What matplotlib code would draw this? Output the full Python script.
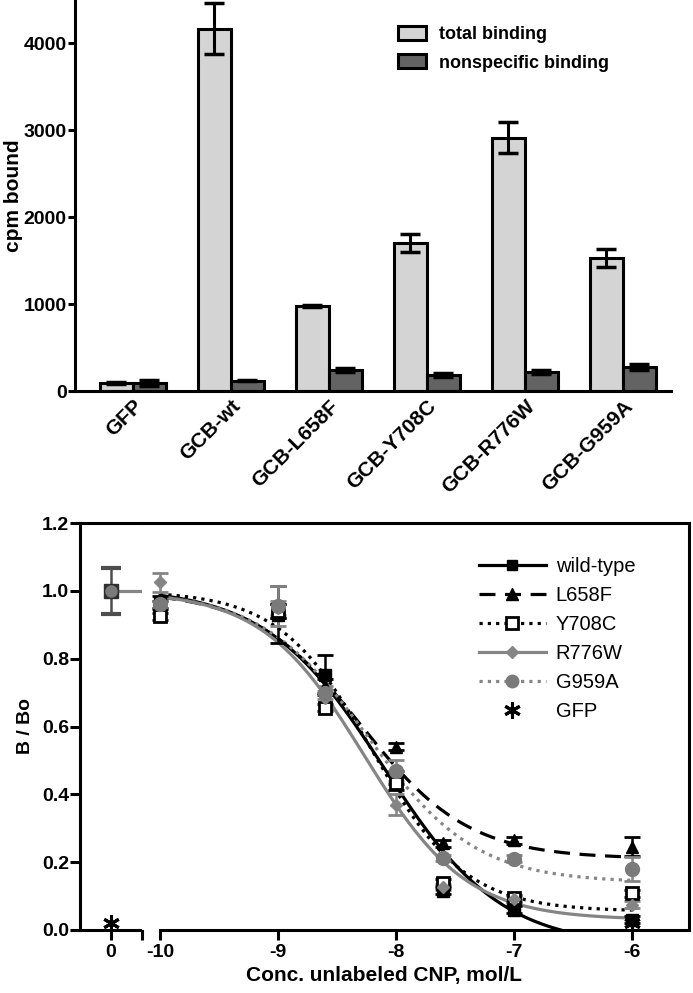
import numpy as np
import matplotlib
matplotlib.use("Agg")
from matplotlib import pyplot as plt
from matplotlib import transforms

plt.rcParams["font.family"] = ["Liberation Sans", "DejaVu Sans"]

# ---- top panel: binding assay ----
constructs = ["GFP", "GCB-wt", "GCB-L658F", "GCB-Y708C", "GCB-R776W", "GCB-G959A"]
total_binding = [90, 4170, 980, 1705, 2915, 1535]
total_err = [10, 290, 8, 105, 180, 105]
nonspec_binding = [90, 120, 240, 184, 220, 280]
nonspec_err = [35, 8, 25, 18, 25, 35]

# ---- bottom panel: competition curves ----
log_conc = [-10, -9, -8.6, -8, -7.6, -7, -6]
series_names = ["wild-type", "L658F", "Y708C", "R776W", "G959A"]
wt_vals = [0.965, 0.93, 0.752, 0.45, 0.115, 0.06, 0.03]
wt_err = [0.02, 0.085, 0.06, 0.02, 0.01, 0.01, 0.01]
l658f_vals = [0.96, 0.94, 0.72, 0.54, 0.256, 0.265, 0.245]
l658f_err = [0.01, 0.02, 0.02, 0.01, 0.01, 0.01, 0.028]
y708c_vals = [0.925, 0.94, 0.655, 0.433, 0.14, 0.094, 0.108]
y708c_err = [0.01, 0.02, 0.01, 0.02, 0.01, 0.01, 0.01]
r776w_vals = [1.025, 0.95, 0.685, 0.37, 0.127, 0.09, 0.075]
r776w_err = [0.028, 0.02, 0.02, 0.03, 0.01, 0.01, 0.01]
g959a_vals = [0.96, 0.955, 0.70, 0.47, 0.212, 0.21, 0.18]
g959a_err = [0.01, 0.06, 0.02, 0.03, 0.01, 0.01, 0.035]
zero_val = 1.0
zero_err = 0.067
gfp_conc = [-6]
gfp_vals = [0.02]
gfp_zero_val = 0.02

# sigmoid fit parameters (top, bottom, logIC50, hill)
fit_top = [1.01, 1.0, 1.0, 1.0, 1.0]
fit_bottom = [-0.05, 0.21, 0.055, 0.03, 0.14]
fit_logic50 = [-8.105, -8.3, -8.2, -8.27, -8.24]
fit_hill = [0.87, 0.95, 1.1, 1.0, 0.95]

fig = plt.figure(figsize=(6.93, 9.93), dpi=100)
W, H = 693., 993.

ax = fig.add_axes([75 / W, 1 - 391 / H, (671 - 75) / W, 391 / H])
pos = np.arange(len(constructs))
bw = 0.337
ax.bar(pos - bw / 2, total_binding, bw, color="#d4d4d4", edgecolor="black", lw=2.2,
	label="total binding", zorder=2)
ax.bar(pos + bw / 2, nonspec_binding, bw, color="#636363", edgecolor="black", lw=2.2,
	label="nonspecific binding", zorder=2)
ax.errorbar(pos - bw / 2, total_binding, yerr=total_err, fmt="none", ecolor="black",
	elinewidth=2.2, capsize=7, capthick=2.5, zorder=3)
ax.errorbar(pos + bw / 2, nonspec_binding, yerr=nonspec_err, fmt="none", ecolor="black",
	elinewidth=2.2, capsize=7, capthick=2.5, zorder=3)
ax.set_xlim(-0.59, 5.49)
ax.set_ylim(0, 4500)
ax.set_yticks([0, 1000, 2000, 3000, 4000])
ax.set_xticks(pos)
ax.set_xticklabels(constructs, rotation=45, ha="right", va="top", rotation_mode="anchor",
	fontsize=15, fontweight="bold")
shift = transforms.ScaledTranslation(5 / 100, 0, fig.dpi_scale_trans)
for lbl in ax.get_xticklabels():
	lbl.set_transform(lbl.get_transform() + shift)
for lbl in ax.get_yticklabels():
	lbl.set_fontsize(14)
	lbl.set_fontweight("bold")
ax.tick_params(axis="x", length=0, pad=4)
ax.tick_params(axis="y", length=5, width=2.2, pad=1)
for s in ["top", "right"]:
	ax.spines[s].set_visible(False)
for s in ["left", "bottom"]:
	ax.spines[s].set_linewidth(2.2)
ax.set_ylabel("cpm bound", fontsize=15, fontweight="bold")
ax.yaxis.set_label_coords(-0.087, 0.5)
ax.legend(loc="upper left", bbox_to_anchor=(389 / W, 1 - 17 / H), bbox_transform=fig.transFigure,
	frameon=False, prop={"size": 13, "weight": "bold"}, handlelength=1.55, handleheight=0.8,
	labelspacing=0.62, handletextpad=0.7, borderpad=0)

# bottom panel with broken x axis
bot, hgt = 1 - 930 / H, 407 / H
ax0 = fig.add_axes([80 / W, bot, (142 - 80) / W, hgt])
ax1 = fig.add_axes([142 / W, bot, (689 - 142) / W, hgt], sharey=ax0)

gray = "#858585"
styles = [
	dict(color="black", ls="-", marker="s", mfc="black", mec="black", ms=8),
	dict(color="black", ls=(0, (5, 3)), marker="^", mfc="black", mec="black", ms=9),
	dict(color="black", ls=(0, (1, 1.6)), marker="s", mfc="white", mec="black", ms=9, mew=2),
	dict(color=gray, ls="-", marker="D", mfc=gray, mec=gray, ms=6.5),
	dict(color=gray, ls=(0, (1, 1.6)), marker="o", mfc="#7a7a7a", mec="#7a7a7a", ms=10),
]
values = [wt_vals, l658f_vals, y708c_vals, r776w_vals, g959a_vals]
errors = [wt_err, l658f_err, y708c_err, r776w_err, g959a_err]

xfit = np.linspace(-10, -6, 300)
handles = []
for i, name in enumerate(series_names):
	st = styles[i]
	yfit = fit_bottom[i] + (fit_top[i] - fit_bottom[i]) / (1 + 10 ** ((xfit - fit_logic50[i]) * fit_hill[i]))
	ax1.plot(xfit, yfit, color=st["color"], ls=st["ls"], lw=2.3, zorder=2, clip_on=True)
	ax1.errorbar(log_conc, values[i], yerr=errors[i], fmt="none", ecolor=st["color"],
		elinewidth=1.8, capsize=6, capthick=2, zorder=3)
	ax1.plot(log_conc, values[i], ls="none", marker=st["marker"], mfc=st["mfc"], mec=st["mec"],
		ms=st["ms"], mew=st.get("mew", 1), zorder=4)
	h, = ax1.plot([], [], color=st["color"], ls=st["ls"], lw=2.3, marker=st["marker"],
		mfc=st["mfc"], mec=st["mec"], ms=st["ms"] * 0.9, mew=st.get("mew", 1))
	handles.append(h)

star = (6, 2, 0)
ax1.plot(gfp_conc, gfp_vals, ls="none", marker=star, color="black", ms=12, mew=2.2, zorder=5, clip_on=False)
hg, = ax1.plot([], [], ls="none", marker=star, color="black", ms=12, mew=2.2)
handles.append(hg)

# zero concentration point
ax0.axhline(zero_val, xmin=0.5, xmax=1.0, color=gray, lw=2.3, zorder=2)
ax0.errorbar([0], [zero_val], yerr=[zero_err], fmt="none", ecolor="#4d4d4d", elinewidth=1.8,
	capsize=7, capthick=3, zorder=3)
ax0.plot([0], [zero_val], ls="none", marker="s", color="#2e2e2e", ms=10, zorder=4)
ax0.plot([0], [zero_val], ls="none", marker="o", color="#7a7a7a", ms=8, zorder=5)
ax0.plot([0], [gfp_zero_val], ls="none", marker=star, color="black", ms=12, mew=2.2, zorder=5, clip_on=False)

ax0.set_xlim(-1, 1)
ax1.set_xlim(-10.153, -5.517)
ax0.set_ylim(0, 1.2)
ax0.set_yticks([0, 0.2, 0.4, 0.6, 0.8, 1.0, 1.2])
ax0.set_yticklabels(["0.0", "0.2", "0.4", "0.6", "0.8", "1.0", "1.2"], fontsize=14, fontweight="bold")
ax0.set_xticks([0, 1])
ax0.set_xticklabels(["0", ""], fontsize=14, fontweight="bold")
ax1.set_xticks([-10, -9, -8, -7, -6])
ax1.set_xticklabels(["-10", "-9", "-8", "-7", "-6"], fontsize=14, fontweight="bold")
ax1.tick_params(axis="y", left=False, labelleft=False)
for a in (ax0, ax1):
	a.tick_params(axis="both", length=7, width=2.2, pad=3)
	a.tick_params(axis="y", pad=1)
	for s in a.spines.values():
		s.set_linewidth(2.2)
ax0.spines["right"].set_visible(False)
ax1.spines["left"].set_visible(False)
ax1.spines["bottom"].set_bounds(-10, -5.517)
ax0.set_ylabel("B / Bo", fontsize=14, fontweight="bold")
ax0.yaxis.set_label_coords(-0.74, 0.5)
fig.text((80 + 689) / 2 / W, 1 - 976 / H, "Conc. unlabeled CNP, mol/L", ha="center", va="center",
	fontsize=15, fontweight="bold")

ax1.legend(handles, series_names + ["GFP"], loc="upper left", bbox_to_anchor=(469 / W, 1 - 547 / H),
	bbox_transform=fig.transFigure, frameon=False, fontsize=14.5, handlelength=3.3,
	labelspacing=0.5, handletextpad=0.5, borderpad=0)

fig.savefig("out.png", dpi=100)
